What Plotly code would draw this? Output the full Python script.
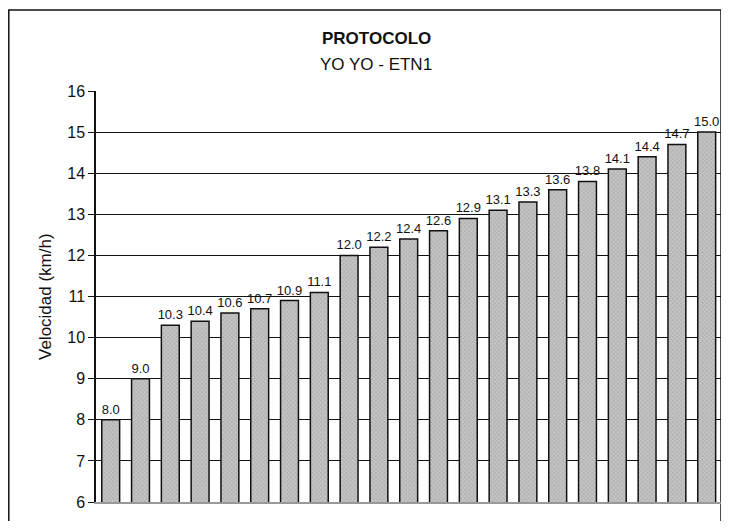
import plotly.graph_objects as go

stages = [str(i) for i in range(1, 22)]
velocidad = [8.0, 9.0, 10.3, 10.4, 10.6, 10.7, 10.9, 11.1, 12.0, 12.2, 12.4,
             12.6, 12.9, 13.1, 13.3, 13.6, 13.8, 14.1, 14.4, 14.7, 15.0]
y_ticks = list(range(6, 17))

FONT = "Liberation Sans, Arial, sans-serif"

fig = go.Figure(go.Bar(
    x=stages, y=velocidad,
    marker=dict(color="#c4c4c4",
                line=dict(color="#111111", width=1.5),
                pattern=dict(shape="x", fgcolor="#8a8a8a", bgcolor="#c4c4c4",
                             size=3, solidity=0.35)),
    text=[f"{v:.1f}" for v in velocidad],
    textposition="outside",
    constraintext="none",
    textfont=dict(size=13, color="#111111", family=FONT),
    cliponaxis=False,
    width=0.6,
))

# page body has an 8px margin; keep the figure inside the viewport (no scrollbars)
OFF = 8
W, H = 729 - 2 * OFF, 529 - 2 * OFF
L, T = 96 - OFF, 91 - OFF
plot_bottom = 502 - OFF
R, B = 0, H - plot_bottom
pw, ph = W - L - R, plot_bottom - T

# category spacing (~29.8 px), first bar centre at page x 110.7
step = 29.8
x0 = -(110.7 - 96) / step
x1 = x0 + pw / step

def px(x):
    return (x - OFF - L) / pw

def py(y):
    return (plot_bottom - (y - OFF)) / ph

fig.update_layout(
    width=W, height=H,
    margin=dict(l=L, r=R, t=T, b=B),
    paper_bgcolor="white", plot_bgcolor="white",
    showlegend=False,
    font=dict(family=FONT, color="#111111"),
    xaxis=dict(showticklabels=False, ticks="", showgrid=False,
               showline=True, linecolor="#999999", linewidth=1.5,
               range=[x0, x1]),
    yaxis=dict(range=[6, 16], tickvals=y_ticks, showgrid=True,
               gridcolor="#111111", gridwidth=1, zeroline=False,
               showline=True, linecolor="#111111", linewidth=1.5,
               ticks="outside", ticklen=6, tickcolor="#111111",
               tickfont=dict(size=16, family=FONT)),
    shapes=[dict(type="rect", xref="paper", yref="paper",
                 x0=px(8.8), x1=1.0, y0=py(560), y1=py(10),
                 line=dict(color="#111111", width=1.5), layer="below")],
    annotations=[
        dict(text="<b>PROTOCOLO</b>", xref="paper", yref="paper",
             x=px(376), y=py(38.5), showarrow=False,
             font=dict(size=17, family=FONT), xanchor="center", yanchor="middle"),
        dict(text="YO YO - ETN1", xref="paper", yref="paper",
             x=px(376), y=py(64.5), showarrow=False,
             font=dict(size=17, family=FONT), xanchor="center", yanchor="middle"),
        dict(text="Velocidad (km/h)", xref="paper", yref="paper",
             x=px(45), y=py(296), showarrow=False, textangle=-90,
             font=dict(size=17, family=FONT), xanchor="center", yanchor="middle"),
    ],
)

fig.write_html("out.html")
